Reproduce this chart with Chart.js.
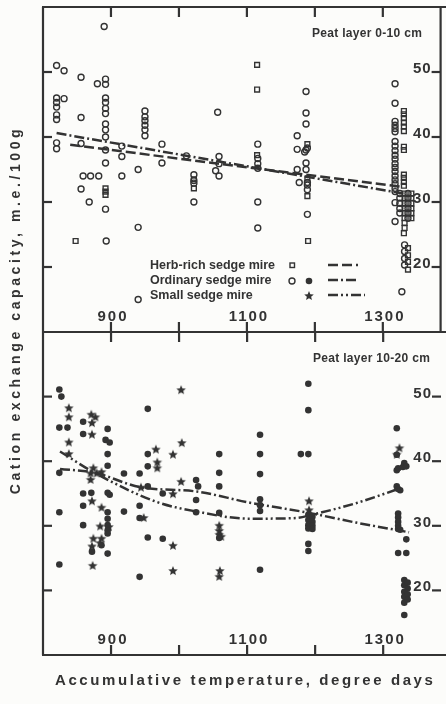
<!DOCTYPE html>
<html>
<head>
<meta charset="utf-8">
<script src="https://cdn.jsdelivr.net/npm/chart.js@4.4.1/dist/chart.umd.min.js"></script>
<style>
  body { margin: 0; width: 446px; height: 704px; overflow: hidden; position: relative; background: #fcfcfa; color: #333;
         font-family: "Liberation Sans", Arial, sans-serif; }
  canvas { position: absolute; left: 0; }
  #topPanel { top: 0; }
  #bottomPanel { top: 325px; }
  .ytitle { position: absolute; left: -195px; top: 300px; width: 420px; line-height: 20px; text-align: center;
            transform: rotate(-90deg); font-weight: bold; font-size: 14px; letter-spacing: 3.6px; white-space: nowrap; }
  .xtitle { position: absolute; left: 55px; top: 671px; font-weight: bold; font-size: 15px; letter-spacing: 2.6px; white-space: nowrap; }
</style>
</head>
<body>
<canvas id="topPanel" width="446" height="345"></canvas>
<canvas id="bottomPanel" width="446" height="379"></canvas>
<div class="ytitle">Cation exchange capacity, m.e./100g</div>
<div class="xtitle">Accumulative temperature, degree days</div>
<script>
// axis ticks
const xTicks = [900, 1000, 1100, 1200, 1300];
const xTickLabels = [900, 1100, 1300];
const yTicks = [20, 30, 40, 50];

// peat layer 0-10 cm: [degree days, CEC]
const topHerbRich = [
  [848, 24.0], [892, 32.1], [892, 31.6], [892, 31.1], [1022, 33.5], [1022, 32.1],
  [1115, 51.1], [1115, 47.3], [1115, 37.2], [1189, 38.9], [1189, 33.6], [1189, 30.9], [1190, 24.0],
  [1331, 44.0], [1331, 43.5], [1331, 42.9], [1331, 42.2], [1331, 41.6], [1331, 40.9], [1331, 38.5],
  [1331, 38.0], [1331, 34.2], [1331, 33.7], [1331, 33.1], [1331, 32.5], [1331, 25.2],
  [1332, 31.3], [1332, 30.6], [1332, 29.8], [1332, 29.0], [1332, 28.3], [1332, 27.5], [1332, 26.8], [1332, 26.0],
  [1342, 31.3], [1342, 30.6], [1342, 29.8], [1342, 29.0], [1342, 28.3], [1342, 27.5],
  [1337, 22.9], [1337, 21.8], [1337, 20.8], [1337, 19.6]
];
const topOrdinary = [
  [820, 51.0], [820, 46.0], [820, 45.3], [820, 44.6], [820, 43.4], [820, 42.7], [820, 39.1], [820, 38.2],
  [831, 50.2], [831, 45.9], [856, 49.2], [856, 43.0], [856, 39.0], [856, 32.0],
  [859, 34.0], [870, 34.0], [882, 34.0], [868, 30.0], [880, 48.2], [890, 57.0],
  [892, 48.9], [892, 48.1], [892, 46.0], [892, 45.3], [892, 44.4], [892, 43.6], [892, 42.0], [892, 41.1],
  [892, 40.0], [892, 38.0], [892, 36.0], [892, 28.9], [893, 24.0],
  [916, 38.6], [916, 37.0], [916, 34.0], [940, 35.0], [940, 26.1], [940, 15.0],
  [950, 44.0], [950, 43.1], [950, 42.5], [950, 41.8], [950, 41.1], [950, 40.2],
  [975, 38.9], [975, 36.0], [1011, 37.1],
  [1022, 34.2], [1022, 33.3], [1022, 32.9], [1022, 30.0], [1057, 43.8],
  [1059, 37.0], [1059, 35.9], [1059, 34.0], [1054, 34.8],
  [1116, 38.9], [1116, 36.7], [1116, 35.9], [1116, 35.2], [1116, 30.0], [1116, 26.0],
  [1174, 40.2], [1174, 38.1], [1174, 35.0], [1177, 33.0],
  [1187, 47.0], [1187, 43.7], [1187, 42.0], [1187, 38.0], [1187, 36.0], [1187, 35.0], [1185, 37.7],
  [1189, 38.3], [1189, 33.0], [1189, 32.6], [1189, 31.9], [1189, 28.1],
  [1318, 48.2], [1318, 45.2], [1318, 42.4], [1318, 41.8], [1318, 41.3], [1318, 40.8], [1318, 39.3],
  [1318, 38.6], [1318, 37.9], [1318, 37.2], [1318, 36.6], [1318, 35.9], [1318, 35.3], [1318, 34.7],
  [1318, 34.0], [1318, 33.4], [1318, 32.8], [1318, 32.1], [1318, 31.6], [1318, 29.9], [1318, 27.0],
  [1325, 31.3], [1325, 30.6], [1325, 29.8], [1325, 29.0], [1325, 28.3],
  [1337, 31.3], [1337, 30.6], [1337, 29.8], [1337, 29.0], [1337, 28.3], [1337, 27.5],
  [1332, 23.4], [1332, 22.4], [1332, 21.3], [1332, 20.3], [1328, 16.2]
];
const topHerbRichTrend = [[840, 38.8], [1330, 32.3]];
const topOrdinaryTrend = [[820, 40.6], [1330, 31.3]];

// peat layer 10-20 cm
const bottomOrdinary = [
  [824, 51.1], [824, 45.2], [824, 38.2], [824, 32.1], [824, 24.0], [827, 50.0], [836, 45.2],
  [859, 46.1], [859, 44.2], [859, 35.0], [859, 33.1], [859, 30.1], [871, 35.1], [872, 26.0], [886, 27.0],
  [895, 45.0], [895, 41.1], [895, 39.3], [895, 35.1], [895, 32.1], [895, 31.1], [895, 30.1], [895, 29.3],
  [895, 28.8], [895, 25.7], [892, 43.3], [898, 42.9], [898, 34.8],
  [919, 38.1], [919, 32.2], [942, 38.1], [942, 33.1], [942, 31.2], [942, 22.1],
  [954, 48.1], [954, 41.1], [954, 39.2], [954, 36.1], [954, 28.2], [976, 35.0], [976, 28.0],
  [1025, 37.1], [1025, 34.0], [1025, 32.1], [1028, 36.1],
  [1059, 41.1], [1059, 38.2], [1059, 36.1], [1059, 32.0], [1059, 28.1],
  [1119, 44.1], [1119, 41.1], [1119, 38.0], [1119, 34.1], [1119, 33.2], [1119, 32.3], [1119, 23.2],
  [1179, 41.1], [1190, 52.0], [1190, 47.9], [1190, 41.1], [1190, 31.7], [1190, 30.9], [1190, 30.1],
  [1190, 29.6], [1190, 27.2], [1190, 26.1], [1196, 31.4], [1196, 30.6], [1196, 30.0], [1196, 29.5],
  [1320, 45.1], [1320, 41.0], [1320, 38.6], [1320, 36.1],
  [1322, 38.9], [1322, 35.7], [1322, 31.9], [1322, 31.3], [1322, 30.6], [1322, 30.0], [1322, 29.5], [1322, 25.8],
  [1325, 35.5], [1325, 29.4], [1329, 39.1], [1331, 39.7], [1334, 39.2], [1334, 27.9], [1334, 25.8],
  [1331, 21.6], [1331, 20.8], [1331, 19.8], [1331, 19.0], [1331, 18.1], [1331, 16.2],
  [1336, 21.2], [1336, 20.3], [1336, 19.4], [1336, 18.6]
];
const bottomSmall = [
  [838, 48.2], [838, 46.8], [838, 42.9], [838, 41.1],
  [871, 47.2], [877, 46.8], [872, 45.9], [872, 44.1], [872, 33.8], [872, 26.8],
  [874, 38.9], [874, 28.0], [870, 38.1], [870, 37.1], [879, 38.1], [873, 23.8],
  [886, 38.3], [886, 32.8], [886, 28.0], [884, 29.9], [884, 27.3], [897, 29.8],
  [944, 35.9], [948, 31.2], [966, 41.8], [968, 39.8], [968, 38.9],
  [991, 41.0], [991, 34.9], [991, 26.9], [991, 23.0], [1003, 51.0], [1003, 36.8], [1004, 42.8],
  [1059, 30.0], [1059, 29.2], [1059, 28.6], [1062, 28.3], [1060, 23.0], [1059, 22.1],
  [1191, 33.8], [1191, 32.4], [1324, 42.0], [1320, 41.0]
];
const bottomOrdinaryTrend = [[825, 38.8], [876, 38.2], [942, 36.0], [1026, 35.3], [1103, 33.6], [1191, 32.0], [1260, 30.5], [1338, 29.0]];
const bottomSmallTrend = [[825, 41.5], [876, 38.2], [967, 33.7], [1026, 32.2], [1103, 31.1], [1172, 31.2], [1195, 31.7], [1260, 33.5], [1325, 35.8]];

const INK = '#333';
const FONT = '"Liberation Sans", Arial, sans-serif';
const DASHED = [10, 4];
const DASH_DOT = [10, 3, 2, 3];
const DASH_DOT_DOT = [10, 3, 2, 3, 2, 3];

const toXY = rows => rows.map(([x, y]) => ({ x, y }));

// filled five-point star used as a point style
function starImage(r) {
  const c = document.createElement('canvas');
  const s = Math.ceil(r * 2 + 2);
  c.width = c.height = s;
  const g = c.getContext('2d');
  g.fillStyle = INK;
  g.beginPath();
  for (let i = 0; i < 10; i++) {
    const rad = i % 2 ? r * 0.45 : r;
    const ang = -Math.PI / 2 + i * Math.PI / 5;
    g.lineTo(s / 2 + rad * Math.cos(ang), s / 2 + rad * Math.sin(ang));
  }
  g.closePath();
  g.fill();
  return c;
}
const STAR = starImage(5);

function seg(ctx, x1, y1, x2, y2) {
  ctx.beginPath();
  ctx.moveTo(x1, y1);
  ctx.lineTo(x2, y2);
  ctx.stroke();
}

function drawLegend(ctx) {
  ctx.font = 'bold 12.5px ' + FONT;
  ctx.textAlign = 'left';
  ctx.letterSpacing = '0px';
  ctx.fillText('Herb-rich sedge mire', 150, 269);
  ctx.fillText('Ordinary sedge mire', 150, 284);
  ctx.fillText('Small sedge mire', 150, 299);

  ctx.lineWidth = 1.4;
  ctx.strokeRect(290, 263, 4.5, 4.5);
  ctx.beginPath();
  ctx.arc(292, 281, 3, 0, Math.PI * 2);
  ctx.stroke();
  ctx.beginPath();
  ctx.arc(309, 281, 3.3, 0, Math.PI * 2);
  ctx.fill();
  ctx.drawImage(STAR, 309 - STAR.width / 2, 296 - STAR.height / 2);

  ctx.lineWidth = 2.5;
  ctx.setLineDash(DASHED);
  seg(ctx, 328, 265, 358, 265);
  ctx.setLineDash(DASH_DOT);
  seg(ctx, 328, 280, 359, 280);
  ctx.setLineDash(DASH_DOT_DOT);
  seg(ctx, 328, 295, 365, 295);
  ctx.setLineDash([]);
}

// frame, inward ticks, labels inside the panel
const panelFrame = {
  id: 'panelFrame',
  afterDatasetsDraw(chart, args, o) {
    const { ctx, chartArea: a, scales: { x, y } } = chart;
    ctx.save();
    ctx.strokeStyle = INK;
    ctx.fillStyle = INK;
    ctx.lineWidth = 2.2;
    seg(ctx, a.left - 1, a.top, chart.width, a.top);
    seg(ctx, a.left - 1, a.bottom, chart.width, a.bottom);
    seg(ctx, a.left, a.top, a.left, a.bottom);
    if (o.rightBorder) seg(ctx, a.right, a.top, a.right, a.bottom);

    xTicks.forEach(v => {
      const px = x.getPixelForValue(v);
      seg(ctx, px, a.top, px, a.top + 10);
      seg(ctx, px, a.bottom - 10, px, a.bottom);
    });
    yTicks.forEach(v => {
      const py = y.getPixelForValue(v);
      seg(ctx, a.left, py, a.left + 9, py);
      seg(ctx, a.right - 9, py, a.right, py);
    });

    ctx.textBaseline = 'alphabetic';
    ctx.font = 'bold 15px ' + FONT;
    ctx.letterSpacing = '1px';
    ctx.textAlign = 'right';
    yTicks.forEach(v => ctx.fillText(String(v), a.right - 9, y.getPixelForValue(v) + 1));

    ctx.letterSpacing = '2px';
    ctx.textAlign = 'center';
    xTickLabels.forEach(v => ctx.fillText(String(v), x.getPixelForValue(v) + 2, a.bottom - 11));

    ctx.letterSpacing = '0.3px';
    ctx.font = 'bold 12px ' + FONT;
    ctx.textAlign = 'left';
    ctx.fillText(o.title, o.titleX, o.titleY);

    if (o.legend) drawLegend(ctx);
    ctx.restore();
  }
};

function trend(rows, dash) {
  return {
    data: toXY(rows), showLine: true, pointRadius: 0, borderColor: INK, borderWidth: 2.5,
    borderDash: dash, cubicInterpolationMode: 'monotone', order: 0
  };
}

function panel(id, datasets, frame, pad) {
  return new Chart(document.getElementById(id), {
    type: 'scatter',
    data: { datasets },
    options: {
      responsive: false,
      animation: false,
      layout: { padding: pad },
      scales: {
        x: { type: 'linear', min: 800, max: 1385, display: false },
        y: { type: 'linear', min: 10, max: 60, display: false }
      },
      plugins: { legend: { display: false }, tooltip: { enabled: false }, panelFrame: frame }
    },
    plugins: [panelFrame]
  });
}

panel('topPanel', [
  { data: toXY(topOrdinary), pointStyle: 'circle', pointRadius: 3, borderWidth: 1.4,
    borderColor: INK, backgroundColor: 'rgba(0,0,0,0)', order: 1 },
  { data: toXY(topHerbRich), pointStyle: 'rect', pointRadius: 3.4, borderWidth: 1.4,
    borderColor: INK, backgroundColor: 'rgba(0,0,0,0)', order: 1 },
  trend(topHerbRichTrend, DASHED),
  trend(topOrdinaryTrend, DASH_DOT)
], { title: 'Peat layer 0-10 cm', titleX: 312, titleY: 37, rightBorder: true, legend: true },
   { left: 43, top: 7, right: 3, bottom: 13 });

panel('bottomPanel', [
  { data: toXY(bottomOrdinary), pointStyle: 'circle', pointRadius: 3.3, borderWidth: 0,
    backgroundColor: INK, order: 1 },
  { data: toXY(bottomSmall), pointStyle: STAR, order: 1 },
  trend(bottomOrdinaryTrend, DASH_DOT),
  trend(bottomSmallTrend, DASH_DOT_DOT)
], { title: 'Peat layer 10-20 cm', titleX: 313, titleY: 37, rightBorder: false, legend: false },
   { left: 43, top: 7, right: 3, bottom: 49 });
</script>
</body>
</html>
